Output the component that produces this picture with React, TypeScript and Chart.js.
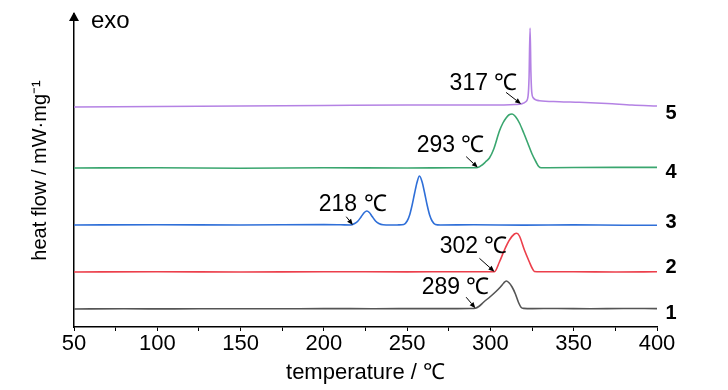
import { useEffect, useRef } from 'react';
import { Chart, registerables } from 'chart.js';

Chart.register(...registerables);

// ---- data (temperature in °C, heat flow in offset arbitrary units) ----
const seriesLabels = ['1', '2', '3', '4', '5'];

const temp1 = [50, 80, 110, 140, 170, 200, 230, 260, 280, 288, 291, 293, 296, 300, 303, 306, 308, 309.5, 311, 313, 315, 317, 318.5, 320, 325, 340, 360, 380, 400];
const heat1 = [18, 18.2, 18.1, 18.3, 18.2, 18.4, 18.3, 18.4, 18.4, 18.5, 18.8, 20.5, 25, 30.5, 35, 40, 44, 46, 44.5, 40, 33, 24, 19.5, 18.6, 18.4, 18.5, 18.3, 18.5, 18.4];

const temp2 = [50, 100, 150, 200, 250, 280, 300, 302.4, 305.4, 308.4, 311.4, 314.4, 315.8, 317.4, 320.4, 323.4, 325, 326.4, 330, 350, 375, 400];
const heat2 = [55, 55.2, 55, 55.3, 55.1, 55.3, 55.2, 55.3, 65, 77, 87, 93, 93.7, 91, 77, 65, 59, 55.5, 55.2, 55.3, 55, 55.2];

const temp3 = [50, 100, 150, 200, 210, 216, 218.5, 220.5, 222.5, 224.3, 225.8, 227.3, 229, 231, 233, 235.5, 240, 245, 248, 250, 251.5, 253, 254.5, 256, 257.4, 259, 260.5, 262, 263.5, 265, 267, 270, 290, 320, 350, 380, 400];
const heat3 = [102, 102.3, 102, 102.4, 102.2, 102, 103.5, 106, 110.5, 114.5, 116, 114.5, 110.5, 106, 103.5, 102.2, 102, 102.1, 102.5, 106, 112, 122, 134, 145, 151, 145, 134, 122, 112, 106, 102.5, 102, 102.2, 101.9, 102.1, 101.8, 101.8];

const temp4 = [50, 100, 150, 200, 250, 280, 290, 292.4, 295, 297, 299.4, 302, 305.4, 307.5, 309.4, 311, 313, 315, 317.4, 320, 322.4, 325, 327.4, 329, 330.5, 335, 350, 375, 400];
const heat4 = [159, 159.3, 158.8, 159.2, 159, 159.2, 159.2, 159.5, 162, 165, 169, 178, 196, 204, 209, 212, 213, 210.5, 204, 194, 184, 173, 165, 160.5, 159.2, 159.3, 159.5, 159.6, 159.6];

const temp5 = [50, 100, 150, 200, 250, 300, 315, 318.4, 321.4, 322.6, 323.2, 323.8, 324.3, 324.8, 325.8, 327.5, 329.4, 341.4, 353.4, 370, 385, 400];
const heat5 = [220, 220.5, 221, 221.5, 222, 222, 222.5, 223, 225.5, 231, 250, 299, 255, 235, 229, 227, 226.3, 225.3, 224.7, 223.5, 222, 221];

const xTickStep = 25;
const xMin = 50;
const xMax = 400;
const yMin = 0;
const yMax = 313;

// onset annotations
const annoLabels = ['317 ℃', '293 ℃', '218 ℃', '302 ℃', '289 ℃'];
const annoTemp = [318.4, 292.4, 217.4, 302.4, 291];
const annoHeat = [223, 159.4, 102, 55.3, 18.8];

// ---- styles ----
const colors = ['#555555', '#ec3f4b', '#2f6fd8', '#3aa66f', '#b482e4'];
const labelDy = [4.5, -4, -3, 4.6, 7];
const annoArrowStart = [[-15, -11.6], [-11.6, -11], [-6.6, -8.3], [-15, -13.4], [-9.3, -11]];
const annoTextPos = [[-3.7, -20.8], [6.7, -21.7], [33.7, -20], [13, -25], [14, -20.8]];

const NARROW = '"Liberation Sans Narrow", "Arial Narrow", "Liberation Sans", Arial, sans-serif';
const REG = '"Liberation Sans", Arial, sans-serif';

const decor = {
  id: 'decor',
  afterDraw(chart: any) {
    const { ctx, chartArea, scales } = chart;
    const x = scales.x;
    const y = scales.y;
    ctx.save();
    ctx.fillStyle = '#000';
    ctx.strokeStyle = '#000';
    // y axis arrow head
    const ax = chartArea.left;
    ctx.beginPath();
    ctx.moveTo(ax, chartArea.top - 2);
    ctx.lineTo(ax - 5, chartArea.top + 7);
    ctx.lineTo(ax + 5, chartArea.top + 7);
    ctx.closePath();
    ctx.fill();
    // exo
    ctx.font = `24px ${NARROW}`;
    ctx.textBaseline = 'alphabetic';
    ctx.textAlign = 'left';
    ctx.fillText('exo', ax + 17, chartArea.top + 14);

    // series labels
    const lastVals = [heat1, heat2, heat3, heat4, heat5].map((h) => h[h.length - 1]);
    ctx.font = `bold 20px ${REG}`;
    ctx.textAlign = 'center';
    ctx.textBaseline = 'middle';
    seriesLabels.forEach((l, i) => {
      ctx.fillText(l, chartArea.right + 14, y.getPixelForValue(lastVals[i]) + labelDy[i]);
    });

    // annotations
    ctx.font = `23px ${NARROW}`;
    ctx.textAlign = 'right';
    ctx.textBaseline = 'middle';
    ctx.lineWidth = 1;
    annoLabels.forEach((t, i) => {
      const px = x.getPixelForValue(annoTemp[i]);
      const py = y.getPixelForValue(annoHeat[i]);
      ctx.fillText(t, px + annoTextPos[i][0], py + annoTextPos[i][1]);
      const sx = px + annoArrowStart[i][0];
      const sy = py + annoArrowStart[i][1];
      const ang = Math.atan2(py - sy, px - sx);
      const hl = 6;
      const hw = 2.5;
      const bx = px - hl * Math.cos(ang);
      const by = py - hl * Math.sin(ang);
      ctx.beginPath();
      ctx.moveTo(sx, sy);
      ctx.lineTo(bx, by);
      ctx.stroke();
      ctx.beginPath();
      ctx.moveTo(px, py);
      ctx.lineTo(bx + hw * Math.sin(ang), by - hw * Math.cos(ang));
      ctx.lineTo(bx - hw * Math.sin(ang), by + hw * Math.cos(ang));
      ctx.closePath();
      ctx.fill();
    });
    ctx.restore();
  },
};

export default function App() {
  const ref = useRef<HTMLCanvasElement>(null);
  useEffect(() => {
    if (!ref.current) return;
    const temps = [temp1, temp2, temp3, temp4, temp5];
    const heats = [heat1, heat2, heat3, heat4, heat5];
    const chart = new Chart(ref.current, {
      type: 'line',
      data: {
        datasets: temps.map((t, i) => ({
          label: seriesLabels[i],
          data: t.map((v, j) => ({ x: v, y: heats[i][j] })),
          borderColor: colors[i],
          borderWidth: 1.6,
          pointRadius: 0,
          fill: false,
          cubicInterpolationMode: 'monotone' as const,
        })),
      },
      options: {
        responsive: false,
        animation: false,
        devicePixelRatio: 1,
        layout: { padding: { top: 14, right: 71, left: 0, bottom: 0 } },
        plugins: { legend: { display: false }, tooltip: { enabled: false } },
        scales: {
          x: {
            type: 'linear',
            min: xMin,
            max: xMax,
            afterFit: (s: any) => { s.height = 63; },
            ticks: {
              stepSize: xTickStep,
              autoSkip: false,
              maxRotation: 0,
              padding: 0,
              color: '#000',
              font: { family: NARROW, size: 22 },
              callback: (v: any) => (Number(v) % 50 === 0 ? String(v) : ''),
            },
            grid: { display: true, drawOnChartArea: false, drawTicks: true, tickLength: 4, color: '#000', tickColor: '#000', tickWidth: 1 },
            border: { display: true, color: '#000', width: 1.5 },
            title: { display: true, text: 'temperature / ℃', color: '#000', font: { family: NARROW, size: 22 }, padding: { top: 0, bottom: 4 } },
          },
          y: {
            type: 'linear',
            min: yMin,
            max: yMax,
            afterFit: (s: any) => { s.width = 74; },
            ticks: { display: false },
            grid: { display: false, drawTicks: false },
            border: { display: true, color: '#000', width: 1.5 },
            title: { display: true, text: 'heat flow / mW·mg⁻¹', color: '#000', font: { family: NARROW, size: 20 }, padding: { top: 28, bottom: 0 } },
          },
        },
      },
      plugins: [decor],
    });
    return () => chart.destroy();
  }, []);
  return (
    <div style={{ position: 'absolute', left: 0, top: 0, width: 728, height: 390, background: '#fff' }}>
      <canvas ref={ref} width={728} height={390} />
    </div>
  );
}
